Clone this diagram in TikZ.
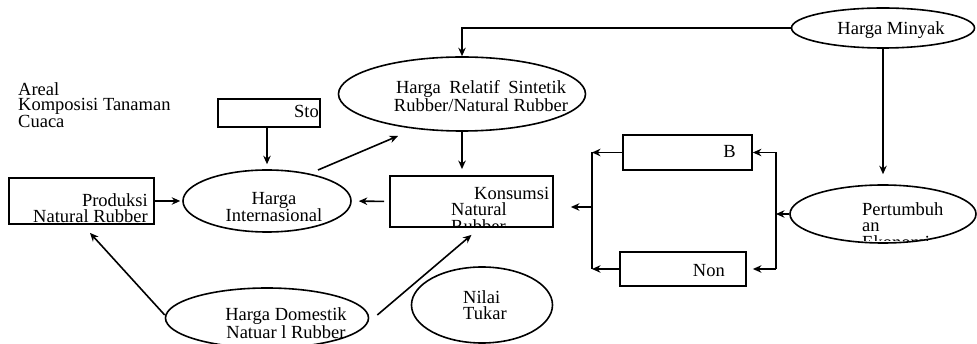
\documentclass[tikz,border=0pt]{standalone}
\usepackage{fontspec}
\setmainfont{Liberation Serif}
\usetikzlibrary{calc}
\usetikzlibrary{arrows.meta}
\usetikzlibrary{shapes.geometric}

\begin{document}
\begin{tikzpicture}[x=1pt,y=-1pt,
    txt/.style={font=\fontsize{18.5}{16.5}\selectfont,inner sep=0pt},
    kotak/.style={draw,line width=1.8pt,inner sep=0pt},
    oval/.style={draw,ellipse,line width=1.6pt,inner sep=0pt},
    arr/.style={line width=1.6pt,-{Stealth[length=8.5pt,width=7.5pt]}}]%
        \useasboundingbox (0,0) rectangle (977,344);
        \node[txt,anchor=north west,align=left,font=\fontsize{18.5}{15}\selectfont] (faktor) at (18,82) {Areal\\Komposisi Tanaman\\Cuaca};
        \begin{scope}
            \node[kotak,minimum width=102pt,minimum height=28pt] (stok) at (269,113) {};
            \node[kotak,minimum width=145pt,minimum height=46pt] (produksi) at (81.5,201) {};
            \node[kotak,minimum width=163pt,minimum height=51pt] (konsumsi) at (471.5,201.5) {};
            \node[kotak,minimum width=129pt,minimum height=35pt] (bbox) at (687.5,152.5) {};
            \node[kotak,minimum width=126pt,minimum height=34pt] (nonbox) at (683,269) {};
            \node[oval,minimum width=168pt,minimum height=62pt] (intl) at (267,201) {};
            \node[oval,minimum width=247pt,minimum height=74pt] (relatif) at (462,94) {};
            \node[oval,minimum width=183pt,minimum height=40pt] (minyak) at (883,28) {};
            \node[oval,minimum width=186pt,minimum height=58pt] (tumbuh) at (883,214) {};
            \node[oval,minimum width=203pt,minimum height=60pt] (domestik) at (267,318) {};
            \node[oval,minimum width=141pt,minimum height=76pt] (nilai) at (482,305) {};
        \end{scope}
        \node[txt,anchor=base east] (stok-t) at (319,118) {Sto};
        \node[txt,anchor=east,align=right] (produksi-t) at (148,208) {Produksi\\Natural Rubber};
        \node[txt,align=center] (intl-t) at (274,207) {Harga\\Internasional};
        \node[txt,align=center] (relatif-t) at (481,96) {\makebox[170pt][s]{Harga Relatif Sintetik}\\Rubber/Natural Rubber};
        \node[txt] (minyak-t) at (891,30) {Harga Minyak};
        \node[txt,align=center] (domestik-t) at (286,323) {Harga Domestik\\Natuar l Rubber};
        \node[txt,anchor=north west,align=left] (nilai-t) at (463,290) {Nilai\\Tukar};
        \node[txt,anchor=base east] (bbox-t) at (736,158) {B};
        \node[txt,anchor=base east] (nonbox-t) at (725,277) {Non};
        \begin{scope}
            \clip (konsumsi.north west) rectangle (konsumsi.south east);
            \node[txt,anchor=north west,align=left,text width=98pt] (konsumsi-t) at (451,187) {\hfill Konsumsi\\Natural\\Rubber};
        \end{scope}
        \begin{scope}
            \clip (800,190) rectangle (977,241);
            \node[txt,anchor=north west,align=left] (tumbuh-t) at (862,202) {Pertumbuh\\an\\Ekonomi};
        \end{scope}
        \coordinate (ia) at (318,170);
        \coordinate (ra) at (398,136);
        \coordinate (kanan) at (776,214);
        \coordinate (kiri) at (592,207);
        \begin{scope}[arr]
            \draw (minyak.west) -| (relatif.north);
            \draw[shorten >=10pt] (minyak.south) -- (tumbuh.north);
            \draw[shorten >=6pt] (relatif.south) -- (relatif.south |- konsumsi.north);
            \draw[shorten >=5pt] (intl.north |- stok.south) -- (intl.north);
            \draw[shorten >=2pt] (produksi.east) -- (intl.west);
            \draw[shorten <=5pt,shorten >=7pt] (konsumsi.west) -- (intl.east);
            \draw (ia) -- (ra);
            \draw ([yshift=3pt]domestik.west) -- ([xshift=8.5pt,yshift=-8pt]produksi.south);
            \draw ([xshift=8pt,yshift=3pt]domestik.east) -- ([yshift=-7pt]konsumsi.south);
            \draw (tumbuh.west) -- (kanan);
            \draw (kanan |- bbox.east) -- (bbox.east);
            \draw[shorten >=6pt] (kanan |- nonbox.east) -- (nonbox.east);
            \draw (bbox.west) -- (kiri |- bbox.west);
            \draw (nonbox.west) -- (kiri |- nonbox.west);
            \draw[shorten >=17pt] (kiri) -- (kiri -| konsumsi.east);
            \draw[-] (kanan |- bbox.east) -- (kanan |- nonbox.east);
            \draw[-] (kiri |- bbox.west) -- (kiri |- nonbox.west);
        \end{scope}
    \end{tikzpicture}
\end{document}
